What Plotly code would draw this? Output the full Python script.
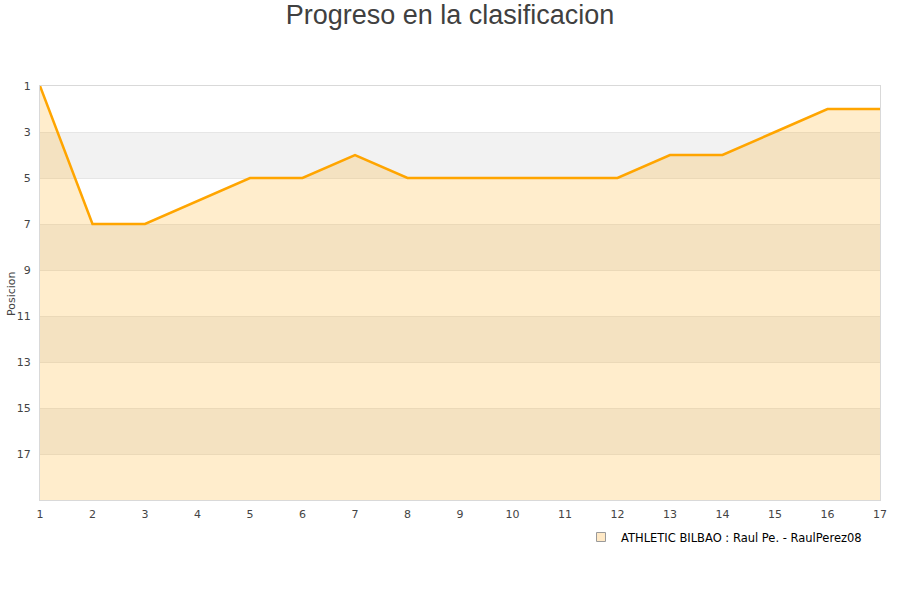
import plotly.graph_objects as go

jornadas = list(range(1, 18))
posiciones = [1, 7, 7, 6, 5, 5, 4, 5, 5, 5, 5, 5, 4, 4, 3, 2, 2]
y_ticks = [1, 3, 5, 7, 9, 11, 13, 15, 17]
team_label = "ATHLETIC BILBAO : Raul Pe. - RaulPerez08"
title_text = "Progreso en la clasificacion"
y_axis_title = "Posicion"
y_bottom = 19

fig = go.Figure()

# alternating background bands
for i, lo in enumerate(range(1, y_bottom, 2)):
    if i % 2 == 1:
        fig.add_shape(type="rect", xref="paper", yref="y", x0=0, x1=1, y0=lo, y1=lo + 2,
                      fillcolor="#f2f2f2", line_width=0, layer="below")

fig.add_trace(go.Scatter(x=jornadas, y=[y_bottom] * len(jornadas), mode="lines",
                         line=dict(width=0), showlegend=False, hoverinfo="skip"))
fig.add_trace(go.Scatter(x=jornadas, y=posiciones, mode="lines", name=team_label,
                         line=dict(color="#ffa500", width=2.5), showlegend=False,
                         fill="tonexty", fillcolor="rgba(255,165,0,0.2)"))
# legend entry (square symbol)
fig.add_trace(go.Scatter(x=[None], y=[None], mode="markers", name=team_label,
                         marker=dict(symbol="square", size=9, color="#ffe9c6",
                                     line=dict(color="#9a9a9a", width=1))))

fig.add_annotation(text=y_axis_title, xref="paper", yref="paper", x=-29 / 840, y=0.5,
                   textangle=-90, showarrow=False, xanchor="center", yanchor="middle",
                   font=dict(family="DejaVu Sans", size=11, color="#444444"))

fig.update_layout(
    width=900, height=600,
    paper_bgcolor="white", plot_bgcolor="white",
    margin=dict(l=40, r=20, t=86, b=100, autoexpand=False),
    title=dict(text=title_text, x=0.5, xanchor="center", xref="container",
               yref="container", y=1 - 15 / 600, yanchor="middle",
               font=dict(family="Liberation Sans", size=27, color="#404040")),
    font=dict(family="DejaVu Sans", size=11, color="#444444"),
    xaxis=dict(range=[1, 17], tickmode="array", tickvals=jornadas, showgrid=False,
               zeroline=False, showline=True, linecolor="#d9d9d9", mirror=True,
               ticks="", ticklabelstandoff=4, automargin=False,
               tickfont=dict(color="#444444")),
    yaxis=dict(range=[y_bottom, 1], tickmode="array", tickvals=y_ticks, showgrid=True,
               gridcolor="#e6e6e6", zeroline=False, showline=True, linecolor="#d9d9d9",
               mirror=True, ticks="", ticklabelstandoff=6, automargin=False,
               tickfont=dict(color="#444444")),
    legend=dict(orientation="h", xref="container", yref="container",
                x=867 / 900, xanchor="right", y=1 - 537 / 600, yanchor="middle",
                font=dict(family="DejaVu Sans", size=11.5, color="#000000"),
                bgcolor="rgba(0,0,0,0)"),
    showlegend=True,
)

fig.write_html("out.html", config={"displayModeBar": False},
               post_script="document.body.style.margin='0';")
